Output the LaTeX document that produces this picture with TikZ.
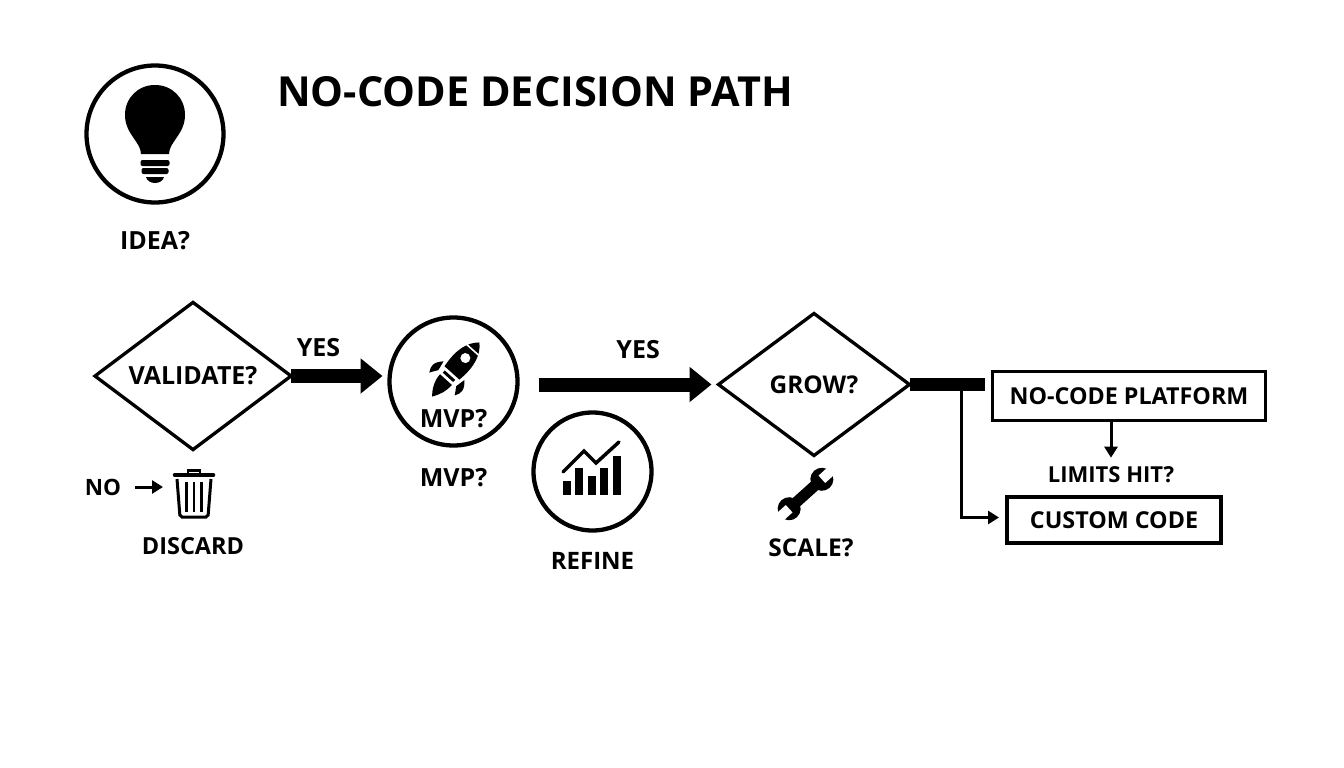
\documentclass[tikz,border=0pt]{standalone}
\usepackage{fontspec}
\setmainfont{Open Sans}
\usetikzlibrary{arrows.meta,positioning,shapes.geometric}

\tikzset{
    lbl/.style={inner sep=0pt,text=black,font=\bfseries\fontsize{#1}{26}\selectfont},
    lbl/.default=24.5,
    ring/.style={circle,draw,line width=4.3pt,inner sep=0pt,outer sep=0pt,minimum size=#1},
    choice/.style={diamond,draw,line width=3.3pt,inner sep=0pt,outer sep=0pt,font=\bfseries\fontsize{#1}{26}\selectfont},
    boxnode/.style={rectangle,draw,line width=3.3pt,inner sep=0pt,outer sep=0pt,font=\bfseries\fontsize{23.3}{26}\selectfont},
    fat/.style={line width=14pt,-{Triangle[length=22pt,width=34pt]}},
    slim/.style={line width=3pt,-{Triangle[length=11pt,width=13pt]}},
    bulb/.pic={
        \fill (-14,20) .. controls (-14,8) and (-30,0) .. (-30,-19)
              .. controls (-30,-36) and (-17,-49) .. (0,-49)
              .. controls (17,-49) and (30,-36) .. (30,-19)
              .. controls (30,0) and (14,8) .. (14,20) -- cycle;
        \fill[rounded corners=2pt] (-14.5,26) rectangle (14.5,32);
        \fill[rounded corners=2pt] (-13.5,34) rectangle (13.5,40);
        \fill (-9,43) -- (9,43) .. controls (8,47) and (4,49) .. (0,49)
              .. controls (-4,49) and (-8,47) .. (-9,43) -- cycle;
    },
    rocket/.pic={
        \begin{scope}[rotate=48]
            \fill (29,0) .. controls (21,-9) and (8,-13) .. (-12,-10) -- (-12,10)
                  .. controls (8,13) and (21,9) .. (29,0) -- cycle;
            \draw[white,line width=1.6pt] (19,-9) -- (19,9);
            \fill[white] (8,0) circle (5);
            \fill (-9,-14) .. controls (-16,-21) and (-21,-21) .. (-27,-17)
                  .. controls (-23,-15) and (-21,-13) .. (-19,-12) -- cycle;
            \fill (-9,14) .. controls (-16,21) and (-21,21) .. (-27,17)
                  .. controls (-23,15) and (-21,13) .. (-19,12) -- cycle;
            \fill (-15,-7) -- (-18,-7) -- (-18,7) -- (-15,7) -- cycle;
            \fill (-21,-8) .. controls (-30,-8) and (-37,-4) .. (-43,1)
                  .. controls (-37,5) and (-30,8) .. (-21,8) -- cycle;
        \end{scope}
    },
    trashcan/.pic={
        \draw[line width=3.5pt,line cap=round] (-19.5,-20) -- (19.5,-20);
        \draw[line width=2.5pt] (-6,-21) -- (-6,-24.5) -- (6,-24.5) -- (6,-21);
        \draw[line width=3pt,rounded corners=2pt] (-17,-16) -- (-14,22) -- (14,22) -- (17,-16);
        \foreach \i in {-7.5,0,7.5}
            \draw[line width=2.5pt] (\i,-13) -- (\i,17);
    },
    chart/.pic={
        \foreach \i/\t in {-30/9.5,-17.5/-3.5,-5/4.5,7.5/-3.5,20/-15.5}
            \fill (\i,23.5) rectangle (\i+8.4,\t);
        \draw[line width=3.5pt,line cap=round,line join=miter] (-29.5,.5) -- (-8.5,-20.5) -- (3.5,-8.5) -- (26.5,-29.5);
    },
    wrench/.pic={
        \begin{scope}[rotate=42]
            \fill (-22,-5.5) rectangle (22,5.5);
            \fill (-22,0) circle (11.5);
            \fill (22,0) circle (11.5);
            \fill[white] (22,-5) rectangle (36,5);
            \fill[white] (-22,-5) rectangle (-36,5);
        \end{scope}
    },
}

\begin{document}
\begin{tikzpicture}[x=1pt,y=-1pt,on grid]
    \useasboundingbox (0,0) rectangle (1344,768);

    \node[inner sep=0pt,anchor=west,font=\bfseries\fontsize{41.4}{46}\selectfont] (title) at (277,92) {NO-CODE DECISION PATH};

    \node[ring=137pt]                                 (idea)     at (155,134) {};
    \node[lbl=25]                                     (idealbl)  [below=107pt of idea] {IDEA?};
    \node[choice=25,minimum width=196pt,minimum height=147pt] (validate) [below right=242pt and 38pt of idea] {VALIDATE?};
    \node[ring=128pt]                                 (mvp)      [below right=5.5pt and 260.5pt of validate] {};
    \node[lbl=25]                                     (mvpin)    [below=37pt of mvp] {MVP?};
    \node[lbl=25]                                     (mvpout)   [below=96pt of mvp] {MVP?};
    \node[ring=118pt]                                 (refine)   [below right=90pt and 139pt of mvp] {};
    \node[lbl=24]                                     (refinelbl)[below=89pt of refine] {REFINE};
    \node[choice=24.4,minimum width=191pt,minimum height=142pt] (grow) [below right=3pt and 360.5pt of mvp] {GROW?};
    \node[lbl]                                        (scale)    [below left=163pt and 3pt of grow] {SCALE?};
    \node[lbl=22.5]                                   (nolbl)    [below left=111pt and 90pt of validate] {NO};
    \node[lbl=23.5]                                   (discard)  [below=170pt of validate] {DISCARD};
    \node[boxnode,minimum width=273pt,minimum height=49pt] (platform) [below right=11.5pt and 315pt of grow] {NO-CODE PLATFORM};
    \node[lbl=22]                                     (limits)   [below left=79pt and 18pt of platform] {LIMITS HIT?};
    \node[boxnode,minimum width=214pt,minimum height=46pt] (custom) [below right=124pt and -15pt of platform] {CUSTOM CODE};

    \coordinate[right=60pt of nolbl]                 (binedge);
    \coordinate[right=171pt of grow]                 (barend);
    \coordinate[right=147pt of grow]                 (drop);
    \coordinate[above left=2.5pt and 115pt of custom] (turn);

    \pic at (idea) {bulb};
    \pic at (460,364) {rocket};
    \pic at (194,495) {trashcan};
    \pic at (refine) {chart};
    \pic at (805.5,494) {wrench};

    \path[fat,shorten >=7pt] (validate.east) edge node[lbl=25,pos=.28,yshift=28pt] (yesa) {YES} (validate.east -| mvp.west);
    \path[fat,shorten <=21pt,shorten >=7pt] (mvp.east |- grow.west) edge node[lbl=25,pos=.6,yshift=35pt] (yesb) {YES} (grow.west);
    \draw[slim,shorten <=14pt] (nolbl.east) -- (binedge);
    \draw[line width=13pt] (grow.east) -- (barend);
    \draw[slim] (drop) |- (turn);
    \draw[slim,shorten >=9pt] (limits |- platform.south) -- (limits.north);
\end{tikzpicture}
\end{document}
